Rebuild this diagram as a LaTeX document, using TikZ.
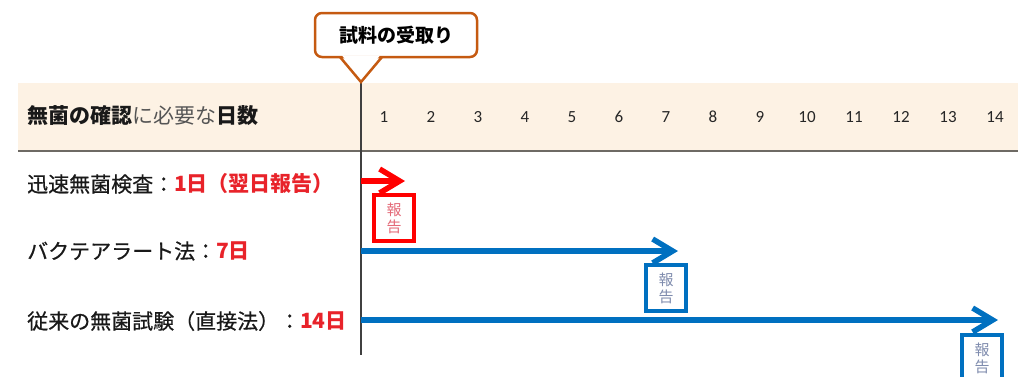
\documentclass[tikz,border=0pt]{standalone}
\usepackage{fontspec}
\setmainfont{Carlito}
\newfontfamily\jp{Noto Sans CJK JP}
\newfontfamily\jpm[FakeBold=0.6]{Noto Sans CJK JP}
\usepackage{tikz}
\usetikzlibrary{arrows.meta, positioning}
\definecolor{bandfill}{HTML}{FDF2E4}
\definecolor{calloutline}{HTML}{C55A11}
\definecolor{axisgray}{HTML}{404040}
\definecolor{rulegray}{HTML}{6E6A64}
\definecolor{fastred}{HTML}{FF0000}
\definecolor{labelred}{HTML}{E8232A}
\definecolor{slowblue}{HTML}{0070C0}
\definecolor{notered}{HTML}{E46A78}
\definecolor{noteblue}{HTML}{7F8CAE}
\definecolor{softgray}{HTML}{555555}

\begin{document}
\begin{tikzpicture}[
        x=1pt, y=-1pt,
        % Set the overall look of the time chart
        daynum/.style={font=\fontsize{17}{17}\selectfont, text=black!85},
        rowlabel/.style={anchor=west, inner sep=0pt, text=black!90, font=\fontsize{21}{22}\selectfont},
        callbox/.style={draw=calloutline, line width=2.5pt, rounded corners=7pt,
            fill=white, minimum width=162pt, minimum height=44pt,
            font=\jp\bfseries\fontsize{19}{19}\selectfont},
        timeline/.style={line width=5.5pt, -{Straight Barb[length=20pt, width=24pt]}},
        report/.style={draw=#1, line width=3.4pt, fill=white, minimum width=40pt,
            minimum height=46pt, inner sep=0pt, align=center,
            font=\jp\fontsize{15}{17}\selectfont}
    ]
    \useasboundingbox (0,0) rectangle (1026,376);

    % header band with the day numbers
    \fill[bandfill] (18,83) rectangle (1018,150);
    \draw[rulegray, line width=2pt] (18,151) -- (1018,151);
    \node[rowlabel] (head) at (27,116) {\jp\textbf{無菌の確認}\textcolor{softgray}{に必要な}\textbf{日数}};
    \foreach \d in {1,...,14}
        \node[daynum] (d\d) at ({384+47*(\d-1)},117) {\d};

    % the day the sample comes in
    \coordinate (start) at (361,82);
    \coordinate (finish) at (361,355);
    \draw[axisgray, line width=1.5pt] (start) -- (finish);
    \node[callbox] (recv) at (396,35) {試料の受取り};
    \fill[white] (342,55.4) -- (380,55.4) -- (361,79) -- cycle;
    \draw[calloutline, line width=2.5pt, line join=miter] (340,57) -- (start) -- (382,57);

    % the three test methods
    \node[rowlabel] (fast) at (27,184)
        {\jpm 迅速無菌検査：\textcolor{labelred}{\jp\bfseries 1日（翌日報告）}};
    \node[rowlabel] (bact) at (27,251)
        {\jpm バクテアラート法：\textcolor{labelred}{\jp\bfseries 7日}};
    \node[rowlabel] (usual) at (27,321)
        {\jpm 従来の無菌試験（直接法）：\textcolor{labelred}{\jp\bfseries 14日}};

    \coordinate (s1) at (361,181);
    \coordinate (e1) at (405,181);
    \coordinate (s2) at (361,251);
    \coordinate (e2) at (678,251);
    \coordinate (s3) at (361,320);
    \coordinate (e3) at (998,320);
    \draw[timeline, fastred] (s1) -- (e1);
    \draw[timeline, slowblue] (s2) -- (e2);
    \draw[timeline, slowblue] (s3) -- (e3);

    % report boxes
    \node[report=fastred, text=notered] (r1) at (394,218) {報\\告};
    \node[report=slowblue, text=noteblue] (r2) at (666,288) {報\\告};
    \node[report=slowblue, text=noteblue] (r3) at (982,358) {報\\告};
\end{tikzpicture}
\end{document}
